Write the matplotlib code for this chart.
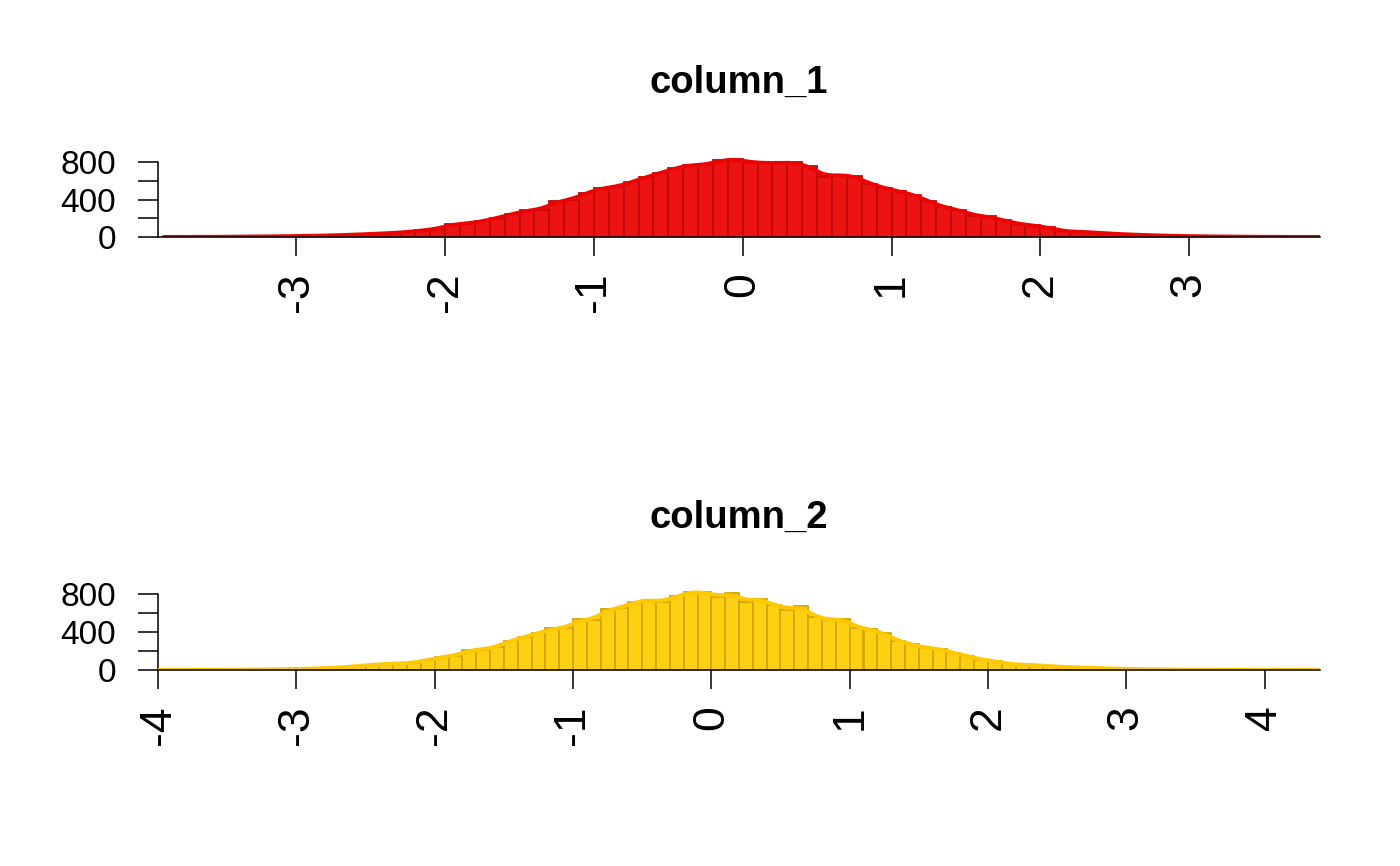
import numpy as np
import matplotlib
matplotlib.use("Agg")
import matplotlib.pyplot as plt

plt.rcParams['font.family'] = ['Liberation Sans', 'DejaVu Sans']

# histogram counts, bin width 0.1
col1_start = -3.9
col1_counts = [1, 1, 1, 2, 3, 4, 5, 7, 9, 11, 14, 18, 23, 29,
               36, 43, 53, 71, 85, 139, 142, 167, 203, 245, 284, 292, 380, 398, 469,
               523, 533, 583, 640, 683, 736, 772, 765, 818, 832,
               797, 789, 789, 800, 754, 640, 665, 654, 569, 523,
               487, 452, 380, 316, 292, 228, 220, 178, 139, 124, 103, 60, 56, 50,
               38, 30, 24, 18, 14, 11, 8, 6, 5, 3, 2, 2, 1, 1, 1]

col2_start = -4.0
col2_counts = [1, 1, 1, 1, 2, 3, 4, 5, 7, 9, 12, 16, 22, 30,
               42,
               56, 63, 70, 74, 105, 140, 147, 214, 214, 246, 309, 351, 386, 439, 439,
               537, 527, 645, 656, 720, 744, 716, 779, 825, 825,
               772, 814, 720, 755, 691, 639, 681, 558, 527, 544,
               449, 428, 390, 302, 270, 232, 225, 179, 147, 109, 95, 60, 56, 53, 38, 33,
               27, 22, 17, 13, 10, 8, 6, 4, 3, 3, 2, 1, 1, 1, 1, 0, 1, 0]

titles = ['column_1', 'column_2']
xticks1 = [-3, -2, -1, 0, 1, 2, 3]
xticks2 = [-4, -3, -2, -1, 0, 1, 2, 3, 4]
yticks = [0, 200, 400, 600, 800]
ylabels = ['0', '', '400', '', '800']

BW = 0.1


def smooth(edges, counts, bw=0.07):
    centers = edges[:-1] + BW / 2
    xs = np.linspace(edges[0], edges[-1], 800)
    w = np.exp(-0.5 * ((xs[:, None] - centers[None, :]) / bw) ** 2)
    return xs, (w * counts).sum(axis=1) / w.sum(axis=1)


def draw_hist(ax, start, counts, fill, edge, line, xticks, xlim):
    counts = np.array(counts, dtype=float)
    edges = start + BW * np.arange(len(counts) + 1)
    xs, ys = smooth(edges, counts)
    ax.fill_between(xs, 0, ys, color=line, lw=0, zorder=1)
    ax.bar(edges[:-1], counts, width=BW, align='edge', color=fill,
           edgecolor=edge, linewidth=1.3, zorder=2)
    ax.plot(xs, ys, color=line, lw=2.8, zorder=3, solid_capstyle='butt')
    ax.set_xlim(*xlim)
    ax.set_ylim(0, 860)
    for s in ['top', 'right']:
        ax.spines[s].set_visible(False)
    ax.spines['left'].set_bounds(0, 800)
    ax.spines['left'].set_linewidth(1.1)
    ax.spines['bottom'].set_linewidth(1.1)
    ax.spines['bottom'].set_zorder(4)
    ax.set_yticks(yticks)
    ax.set_yticklabels(ylabels)
    ax.set_xticks(xticks)
    ax.set_xticklabels([str(t) for t in xticks], rotation=90)
    ax.tick_params(axis='y', length=14.4, width=1.1, pad=16, labelsize=24)
    ax.tick_params(axis='x', length=13.7, width=1.1, pad=12, labelsize=32)


fig = plt.figure(figsize=(14, 8.66), dpi=100)
W, H = 1400, 866
left = 158 / W
width = (1320 - 158) / W

ax1 = fig.add_axes([left, 1 - 237 / H, width, 80.6 / H])
draw_hist(ax1, col1_start, col1_counts, '#EE1313', '#BE0A0A', '#EA0404',
          xticks1, (-3.93, 3.88))

ax2 = fig.add_axes([left, 1 - 670 / H, width, 81.4 / H])
draw_hist(ax2, col2_start, col2_counts, '#FFD012', '#D2A800', '#FFC800',
          xticks2, (-4.0, 4.4))

cx = (158 + 1320) / 2 / W
fig.text(cx, 1 - 93 / H, titles[0], ha='center', va='baseline',
         fontsize=27.5, fontweight='bold')
fig.text(cx, 1 - 528 / H, titles[1], ha='center', va='baseline',
         fontsize=27.5, fontweight='bold')

fig.savefig('out.png', dpi=100)
